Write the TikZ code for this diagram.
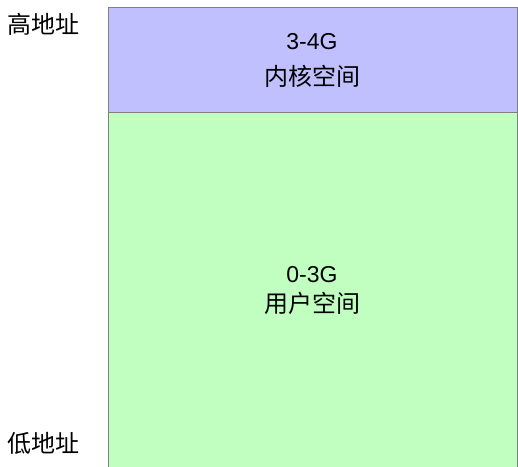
\documentclass[tikz,border=0pt]{standalone}
\usepackage{fontspec}
\setmainfont{Liberation Sans}
\newfontfamily\cjk{Noto Sans CJK SC}
\definecolor{kblue}{HTML}{C0C0FF}
\definecolor{ugreen}{HTML}{C0FFC0}
\definecolor{edge}{HTML}{808080}
\begin{document}
\begin{tikzpicture}[x=1bp,y=-1bp,
  region/.style={draw=edge,line width=1bp,minimum width=409.5bp,inner sep=0pt,anchor=north west},
  sizelbl/.style={inner sep=0pt,anchor=base,font=\fontsize{23bp}{28bp}\selectfont},
  namelbl/.style={inner sep=0pt,font=\cjk\fontsize{24bp}{28bp}\selectfont},
  addrlbl/.style={inner sep=0pt,font=\cjk\fontsize{24bp}{28bp}\selectfont}]
\useasboundingbox (0,0) rectangle (518,467);
\node[region,fill=kblue,minimum height=105.5bp] (kernel) at (107.5,7) {};
\node[region,fill=ugreen,minimum height=354bp] (user) at (107.5,112.5) {};
\node[sizelbl] (ksize) at (312,50) {3-4G};
\node[namelbl] (kname) at (312,76) {内核空间};
\node[sizelbl] (usize) at (312,282) {0-3G};
\node[namelbl] (uname) at (312,303.5) {用户空间};
\node[addrlbl] (high) at (43.5,24) {高地址};
\node[addrlbl] (low) at (43.5,443) {低地址};
\end{tikzpicture}
\end{document}
